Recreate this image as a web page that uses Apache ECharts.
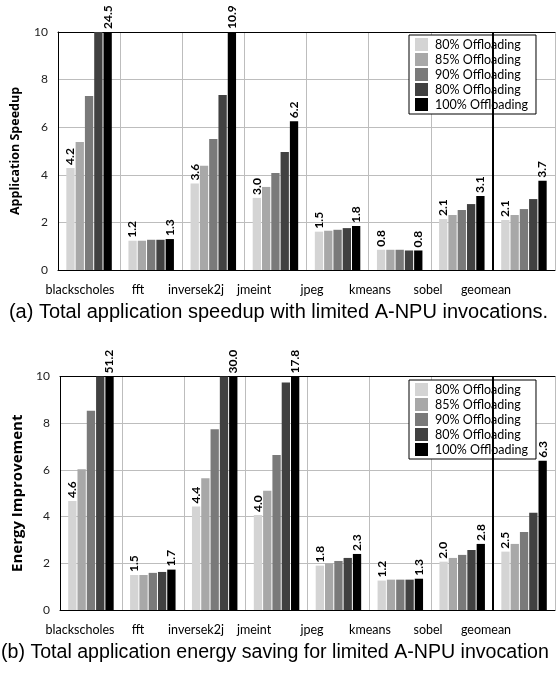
<!DOCTYPE html>
<html>
<head>
<meta charset="utf-8">
<script src="https://cdn.jsdelivr.net/npm/echarts@6/dist/echarts.min.js"></script>
<style>
html,body{margin:0;padding:0;background:#fff;}
#chart{width:557px;height:681px;}
</style>
</head>
<body>
<div id="chart"></div>
<script>
// ---------- data ----------
const categories = ['blackscholes', 'fft', 'inversek2j', 'jmeint', 'jpeg', 'kmeans', 'sobel', 'geomean'];
const seriesNames = ['80% Offloading', '85% Offloading', '90% Offloading', '80% Offloading ', '100% Offloading'];
const yTicks = [0, 2, 4, 6, 8, 10];
const separatorAfter = 7; // thick line between 'sobel' and 'geomean'

// (a) speedup
const speedup80  = [4.29, 1.23, 3.63, 3.03, 1.61, 0.85, 2.14, 2.10];
const speedup85  = [5.38, 1.23, 4.38, 3.49, 1.65, 0.85, 2.31, 2.31];
const speedup90  = [7.31, 1.27, 5.50, 4.08, 1.69, 0.85, 2.52, 2.56];
const speedup80b = [12.0, 1.27, 7.35, 4.96, 1.76, 0.82, 2.77, 2.98];
const speedup100 = [24.5, 1.30, 10.9, 6.25, 1.85, 0.82, 3.11, 3.75];
const speedupLabelsFirst = ['4.2', '1.2', '3.6', '3.0', '1.5', '0.8', '2.1', '2.1'];
const speedupLabelsLast  = ['24.5', '1.3', '10.9', '6.2', '1.8', '0.8', '3.1', '3.7'];

// (b) energy
const energy80  = [4.67, 1.50, 4.43, 4.07, 1.90, 1.26, 2.07, 2.50];
const energy85  = [6.03, 1.50, 5.64, 5.11, 2.00, 1.30, 2.23, 2.83];
const energy90  = [8.53, 1.59, 7.74, 6.64, 2.10, 1.30, 2.36, 3.34];
const energy80b = [15.0, 1.63, 13.0, 9.74, 2.23, 1.30, 2.57, 4.16];
const energy100 = [51.2, 1.73, 30.0, 17.8, 2.40, 1.34, 2.83, 6.39];
const energyLabelsFirst = ['4.6', '1.5', '4.4', '4.0', '1.8', '1.2', '2.0', '2.5'];
const energyLabelsLast  = ['51.2', '1.7', '30.0', '17.8', '2.3', '1.3', '2.8', '6.3'];

const captionA = '(a) Total application speedup with limited A-NPU invocations.';
const captionB = '(b) Total application energy saving for limited A-NPU invocation';

// ---------- styles ----------
const colors = ['#d4d4d4', '#a8a8a8', '#7a7a7a', '#414141', '#000000'];
const gridColor = '#bdbdbd';
const uiFont = 'Lato';

function barSeries(values, idx, xi, yi, labels) {
  const s = {
    type: 'bar',
    name: seriesNames[idx],
    xAxisIndex: xi,
    yAxisIndex: yi,
    data: values,
    barWidth: 8.3,
    barGap: '12%',
    itemStyle: { color: colors[idx] },
    emphasis: { disabled: true },
    animation: false
  };
  if (labels) {
    s.label = {
      show: true,
      position: 'top',
      rotate: 90,
      align: 'left',
      verticalAlign: 'middle',
      distance: 3,
      color: '#000',
      fontFamily: uiFont,
      fontWeight: 'bold',
      fontSize: 12,
      formatter: p => labels[p.dataIndex]
    };
  }
  return s;
}

function separator(xi, yi) {
  return {
    type: 'line',
    xAxisIndex: xi,
    yAxisIndex: yi,
    data: [],
    silent: true,
    animation: false,
    markLine: {
      silent: true,
      symbol: 'none',
      label: { show: false },
      lineStyle: { color: '#000', width: 2, type: 'solid' },
      data: [{ xAxis: separatorAfter }]
    }
  };
}

function catAxis(gridIndex) {
  return {
    type: 'category', gridIndex, data: categories,
    axisLine: { show: true, lineStyle: { color: '#000', width: 1 } },
    axisTick: { show: false },
    axisLabel: { show: false },
    splitLine: { show: true, interval: 0, lineStyle: { color: gridColor, width: 1 } }
  };
}
function topAxis(gridIndex) {
  return {
    type: 'value', gridIndex, min: 0, max: categories.length, position: 'top',
    axisLine: { show: true, onZero: false, lineStyle: { color: '#000', width: 1 } },
    axisTick: { show: false }, axisLabel: { show: false }, splitLine: { show: false }
  };
}
function labelAxis(gridIndex) {
  return {
    type: 'category', gridIndex, data: categories,
    axisLine: { show: false }, axisTick: { show: false }, splitLine: { show: false },
    axisLabel: { show: true, interval: 0, margin: 13, color: '#000', fontFamily: uiFont, fontSize: 12.5 }
  };
}
function valAxis(gridIndex, name, nameSize, nameGap) {
  return {
    type: 'value', gridIndex, min: yTicks[0], max: yTicks[yTicks.length - 1], interval: yTicks[1] - yTicks[0],
    name, nameLocation: 'middle', nameGap,
    nameTextStyle: { fontFamily: 'Open Sans', fontWeight: 'bold', fontSize: nameSize, color: '#000' },
    axisLine: { show: true, lineStyle: { color: '#000', width: 1 } },
    axisTick: { show: false },
    axisLabel: { color: '#222', fontFamily: uiFont, fontSize: 12, margin: 10 },
    splitLine: { show: true, lineStyle: { color: gridColor, width: 1 } }
  };
}
function legend(top) {
  return {
    data: seriesNames,
    orient: 'vertical',
    left: 409, top,
    icon: 'rect',
    itemWidth: 13, itemHeight: 13, itemGap: 2,
    padding: [3, 8, 3, 6],
    borderColor: '#000', borderWidth: 1,
    backgroundColor: '#fff',
    selectedMode: false,
    textStyle: { fontFamily: uiFont, fontSize: 12.5, color: '#000', padding: [0, 0, 0, 2] }
  };
}

const option = {
  animation: false,
  backgroundColor: '#fff',
  title: [
    { text: captionA, left: 'center', top: 302, padding: 0,
      textStyle: { fontFamily: 'Liberation Sans', fontWeight: 'normal', fontSize: 20, color: '#000' } },
    { text: captionB, left: 1, top: 643, padding: 0,
      textStyle: { fontFamily: 'Liberation Sans', fontWeight: 'normal', fontSize: 19.6, color: '#000' } }
  ],
  legend: [legend(35), legend(380)],
  grid: [
    { left: 58, right: 2, top: 32, height: 238 },
    { left: 60, right: 2, top: 376.5, height: 233.5 },
    { left: 51, right: 42, top: 32, height: 238 },
    { left: 51, right: 42, top: 376.5, height: 233.5 }
  ],
  xAxis: [catAxis(0), topAxis(0), catAxis(1), topAxis(1), labelAxis(2), labelAxis(3)],
  yAxis: [
    valAxis(0, 'Application Speedup', 12.5, 36),
    valAxis(1, 'Energy Improvement', 15, 34),
    { type: 'value', gridIndex: 2, show: false },
    { type: 'value', gridIndex: 3, show: false }
  ],
  series: [
    barSeries(speedup80, 0, 0, 0, speedupLabelsFirst),
    barSeries(speedup85, 1, 0, 0),
    barSeries(speedup90, 2, 0, 0),
    barSeries(speedup80b, 3, 0, 0),
    barSeries(speedup100, 4, 0, 0, speedupLabelsLast),
    separator(1, 0),
    barSeries(energy80, 0, 2, 1, energyLabelsFirst),
    barSeries(energy85, 1, 2, 1),
    barSeries(energy90, 2, 2, 1),
    barSeries(energy80b, 3, 2, 1),
    barSeries(energy100, 4, 2, 1, energyLabelsLast),
    separator(3, 1)
  ]
};

const chart = echarts.init(document.getElementById('chart'), null, { renderer: 'canvas' });
chart.setOption(option);
</script>
</body>
</html>
